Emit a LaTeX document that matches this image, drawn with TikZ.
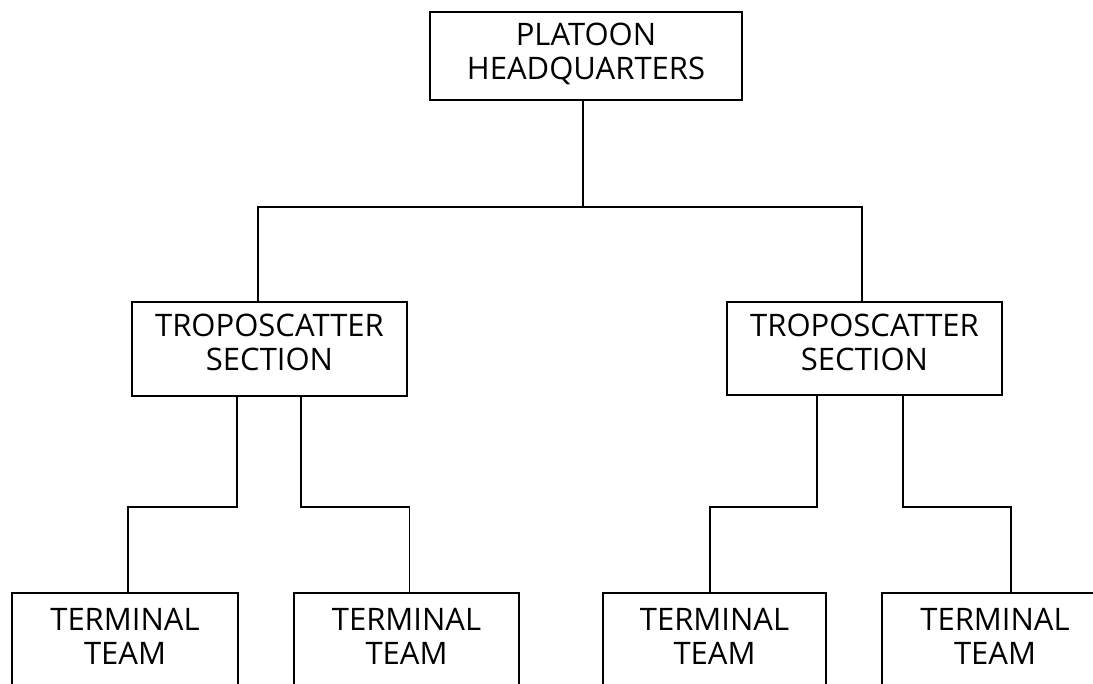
\documentclass[tikz,border=0pt]{standalone}
\usepackage{fontspec}
\setmainfont{Open Sans}
\begin{document}
\begin{tikzpicture}[x=1pt,y=1pt,
  conn/.style={line width=1.6pt},
  orgbox/.style={draw, line width=1.6pt, align=center, inner sep=0pt,
    font=\fontsize{31}{34}\selectfont},
  termbox/.style={orgbox, anchor=north, inner xsep=0pt, inner ysep=15pt, text depth=110pt}]
\useasboundingbox (0,0) rectangle (1093,-684);
\clip (0,0) rectangle (1093,-684);
\fill[white] (0,0) rectangle (1093,-684);

\node[orgbox, minimum width=312pt, minimum height=88pt, text depth=9pt] (hq) at (586,-56) {PLATOON\\HEADQUARTERS};
\node[orgbox, minimum width=275pt, minimum height=94pt, text depth=13pt] (t1) at (269.5,-349) {TROPOSCATTER\\SECTION};
\node[orgbox, minimum width=275pt, minimum height=93pt, text depth=13pt] (t2) at (864.5,-348.5) {TROPOSCATTER\\SECTION};

\node[termbox, minimum width=226pt] (b1) at (125,-592) {TERMINAL\\TEAM};
\node[termbox, minimum width=225pt] (b2) at (406.5,-592) {TERMINAL\\TEAM};
\node[termbox, minimum width=223pt] (b3) at (714.5,-592) {TERMINAL\\TEAM};
\node[termbox, minimum width=226pt] (b4) at (995,-592) {TERMINAL\\TEAM};

\coordinate (top) at (583,-207);
\draw[conn] ([xshift=-3pt]hq.south) -- (top);
\draw[conn] ([xshift=-11.5pt]t1.north) |- (top) -| ([xshift=-2.5pt]t2.north);

\coordinate (l1) at (237,-507);
\coordinate (l2) at (301,-507);
\coordinate (r1) at (817,-507);
\coordinate (r2) at (903,-507);
\draw[conn] ([xshift=-32.5pt]t1.south) -- (l1) -| ([xshift=3pt]b1.north);
\draw[conn] ([xshift=31.5pt]t1.south) -- (l2) -| ([xshift=3pt]b2.north);
\draw[conn] ([xshift=-47.5pt]t2.south) -- (r1) -| ([xshift=-4.5pt]b3.north);
\draw[conn] ([xshift=38.5pt]t2.south) -- (r2) -| ([xshift=16pt]b4.north);
\end{tikzpicture}
\end{document}
